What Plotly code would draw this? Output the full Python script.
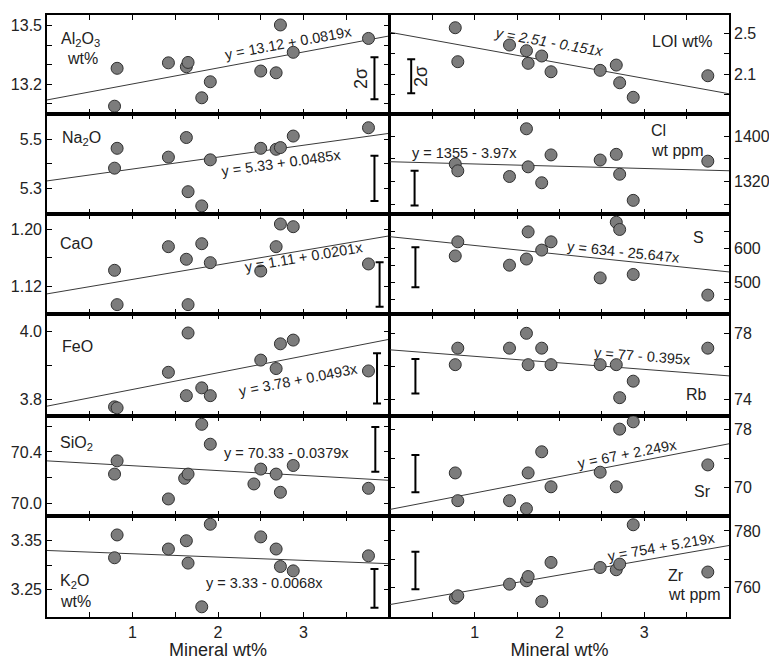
import plotly.graph_objects as go
from plotly.subplots import make_subplots

W, H = 769, 660
FONT = "Liberation Sans, Arial, sans-serif"

# ---------------- data ----------------
x_left = [0.79, 0.82, 1.42, 1.63, 1.65, 1.81, 1.91, 2.50, 2.68, 2.73, 2.88, 3.76]
x_sio2 = [0.79, 0.82, 1.42, 1.61, 1.65, 1.81, 1.91, 2.42, 2.50, 2.68, 2.73, 2.88, 3.76]
x_right = [0.77, 0.80, 1.41, 1.61, 1.63, 1.79, 1.90, 2.48, 2.67, 2.71, 2.87, 3.75]

al2o3 = [13.088, 13.282, 13.310, 13.290, 13.312, 13.131, 13.213, 13.268, 13.259, 13.504, 13.364, 13.435]
na2o = [5.382, 5.463, 5.427, 5.507, 5.286, 5.228, 5.416, 5.463, 5.459, 5.466, 5.513, 5.547]
cao = [1.1427, 1.0951, 1.1755, 1.1580, 1.0951, 1.1796, 1.1533, 1.1417, 1.1755, 1.2069, 1.2032, 1.1515]
feo = [3.778, 3.775, 3.880, 3.811, 3.996, 3.834, 3.811, 3.916, 3.891, 3.964, 3.975, 3.884]
sio2 = [70.227, 70.330, 70.033, 70.194, 70.227, 70.615, 70.460, 70.150, 70.266, 70.227, 70.085, 70.294, 70.116]
k2o = [3.315, 3.362, 3.333, 3.350, 3.304, 3.214, 3.384, 3.358, 3.333, 3.297, 3.288, 3.319]

loi = [2.555, 2.221, 2.385, 2.329, 2.205, 2.277, 2.122, 2.136, 2.188, 2.014, 1.871, 2.083]
cl = [1351, 1339, 1329, 1413, 1346, 1318, 1367, 1358, 1368, 1333, 1287, 1356]
s = [578, 619, 551, 569, 648, 595, 619, 514, 676, 655, 524, 464]
rb = [76.1, 77.1, 77.1, 78.0, 76.1, 77.1, 76.1, 76.1, 76.1, 74.1, 75.1, 77.1]
sr = [72.0, 68.2, 68.2, 67.1, 72.0, 74.9, 70.1, 72.1, 70.1, 78.0, 79.0, 73.1]
zr = [756.3, 757.1, 761.2, 762.4, 763.9, 755.1, 768.9, 767.1, 766.3, 768.3, 782.2, 765.5]

# regression: intercept, slope, label
fits = {
    "al2o3": (13.12, 0.0819, "y = 13.12 + 0.0819x"),
    "na2o": (5.33, 0.0485, "y = 5.33 + 0.0485x"),
    "cao": (1.11, 0.0201, "y = 1.11 + 0.0201x"),
    "feo": (3.78, 0.0493, "y = 3.78 + 0.0493x"),
    "sio2": (70.33, -0.0379, "y = 70.33 - 0.0379x"),
    "k2o": (3.33, -0.0068, "y = 3.33 - 0.0068x"),
    "loi": (2.51, -0.151, "<i>y = 2.51 - 0.151x</i>"),
    "cl": (1355, -3.97, "y = 1355 - 3.97x"),
    "s": (634, -25.647, "y = 634 - 25.647x"),
    "rb": (77, -0.395, "y = 77 - 0.395x"),
    "sr": (67, 2.249, "y = 67 + 2.249x"),
    "zr": (754, 5.219, "y = 754 + 5.219x"),
}

# 2-sigma bars: x position, low, high
err_x = {"al2o3": 3.83, "na2o": 3.83, "cao": 3.89, "feo": 3.86, "sio2": 3.84, "k2o": 3.83,
         "loi": 0.25, "cl": 0.29, "s": 0.30, "rb": 0.30, "sr": 0.30, "zr": 0.30}
err_lo = {"al2o3": 13.123, "na2o": 5.248, "cao": 1.0922, "feo": 3.788, "sio2": 70.245, "k2o": 3.212,
          "loi": 1.910, "cl": 1278, "s": 486.6, "rb": 74.36, "sr": 69.37, "zr": 759.4}
err_hi = {"al2o3": 13.338, "na2o": 5.433, "cao": 1.1538, "feo": 3.936, "sio2": 70.594, "k2o": 3.292,
          "loi": 2.244, "cl": 1339, "s": 603.0, "rb": 76.44, "sr": 74.44, "zr": 772.7}

# y ticks: labelled values, and unlabelled (minor) values
ytick_major = {
    "al2o3": [13.2, 13.5], "na2o": [5.3, 5.5], "cao": [1.12, 1.20], "feo": [3.8, 4.0],
    "sio2": [70.0, 70.4], "k2o": [3.25, 3.35], "loi": [2.1, 2.5], "cl": [1320, 1400],
    "s": [500, 600], "rb": [74, 78], "sr": [70, 78], "zr": [760, 780],
}
ytick_labels = {
    "al2o3": ["13.2", "13.5"], "na2o": ["5.3", "5.5"], "cao": ["1.12", "1.20"],
    "feo": ["3.8", "4.0"], "sio2": ["70.0", "70.4"], "k2o": ["3.25", "3.35"],
    "loi": ["2.1", "2.5"], "cl": ["1320", "1400"], "s": ["500", "600"],
    "rb": ["74", "78"], "sr": ["70", "78"], "zr": ["760", "780"],
}
ytick_minor = {
    "al2o3": [13.1, 13.3, 13.4], "na2o": [5.4], "cao": [1.16], "feo": [3.9],
    "sio2": [70.2, 70.6], "k2o": [3.30], "loi": [1.9, 2.3], "cl": [1280, 1360],
    "s": [450, 550, 650], "rb": [76], "sr": [74], "zr": [770],
}
yranges = {
    "al2o3": [13.048, 13.555], "na2o": [5.195, 5.603], "cao": [1.0821, 1.2208],
    "feo": [3.751, 4.052], "sio2": [69.90, 70.68], "k2o": [3.193, 3.401],
    "loi": [1.707, 2.68], "cl": [1263, 1439], "s": [409, 700],
    "rb": [72.99, 79.17], "sr": [66.1, 79.8], "zr": [749.6, 785.3],
}
xtick_major = [1, 2, 3]
xtick_labels = ["1", "2", "3"]
xtick_minor = [0.5, 1.5, 2.5, 3.5]
x_title = "Mineral wt%"

left_keys = ["al2o3", "na2o", "cao", "feo", "sio2", "k2o"]
right_keys = ["loi", "cl", "s", "rb", "sr", "zr"]
series = {"al2o3": (x_left, al2o3), "na2o": (x_left, na2o), "cao": (x_left, cao),
          "feo": (x_left, feo), "sio2": (x_sio2, sio2), "k2o": (x_left, k2o),
          "loi": (x_right, loi), "cl": (x_right, cl), "s": (x_right, s),
          "rb": (x_right, rb), "sr": (x_right, sr), "zr": (x_right, zr)}

# ---------------- layout geometry (pixels) ----------------
row_top = [15, 114, 214, 314, 416, 516]
row_bot = [114, 214, 314, 416, 516, 617]
col_x = [(47, 389), (390, 729)]

def px(x):
    return x / W

def py(y):
    return 1 - y / H

fig = make_subplots(rows=6, cols=2, horizontal_spacing=0, vertical_spacing=0)

for r in range(6):
    for c in range(2):
        key = (left_keys if c == 0 else right_keys)[r]
        row, col = r + 1, c + 1
        xs, ys = series[key]
        a, b, _ = fits[key]
        fig.add_trace(go.Scatter(x=[0, 4], y=[a, a + b * 4], mode="lines",
                                 line=dict(color="#3a3a3a", width=1), hoverinfo="skip"),
                      row=row, col=col)
        fig.add_trace(go.Scatter(x=xs, y=ys, mode="markers",
                                 marker=dict(size=12, color="#7c7c7c",
                                             line=dict(color="#303030", width=1))),
                      row=row, col=col)
        lo, hi = err_lo[key], err_hi[key]
        fig.add_trace(go.Scatter(x=[err_x[key]], y=[(lo + hi) / 2], mode="markers",
                                 marker=dict(size=1, color="rgba(0,0,0,0)"),
                                 error_y=dict(type="data", array=[(hi - lo) / 2], visible=True,
                                              color="black", thickness=2, width=4)),
                      row=row, col=col)
        idx = r * 2 + c + 1
        xa = "xaxis" if idx == 1 else f"xaxis{idx}"
        ya = "yaxis" if idx == 1 else f"yaxis{idx}"
        x0, x1 = col_x[c]
        tick_common = dict(ticks="inside", ticklen=5, tickwidth=1.2, tickcolor="black",
                           showline=True, linecolor="black", linewidth=1.6, mirror="ticks",
                           showgrid=False, zeroline=False,
                           tickfont=dict(family=FONT, size=16, color="#222"))
        fig.layout[xa].update(
            domain=[px(x0), px(x1)], range=[0, 4],
            tickmode="array", tickvals=xtick_major, ticktext=xtick_labels,
            showticklabels=(r == 5),
            minor=dict(tickmode="array", tickvals=xtick_minor, ticks="inside",
                       ticklen=5, tickwidth=1.2, tickcolor="black", showgrid=False),
            title=dict(text=x_title, font=dict(family=FONT, size=18, color="#222"),
                       standoff=6) if r == 5 else None,
            **tick_common,
        )
        fig.layout[ya].update(
            domain=[py(row_bot[r]), py(row_top[r])], range=yranges[key],
            tickmode="array", tickvals=ytick_major[key], ticktext=ytick_labels[key],
            side="left" if c == 0 else "right",
            minor=dict(tickmode="array", tickvals=ytick_minor[key], ticks="inside",
                       ticklen=5, tickwidth=1.2, tickcolor="black", showgrid=False),
            **tick_common,
        )

ann = []

def text(x, y, t, size=16, angle=0, xanchor="center", yanchor="middle"):
    ann.append(dict(x=px(x), y=py(y), xref="paper", yref="paper", text=t, showarrow=False,
                    textangle=angle, xanchor=xanchor, yanchor=yanchor,
                    font=dict(family=FONT, size=size, color="#222")))

# element labels
text(59, 40, "Al<sub>2</sub>O<sub>3</sub>", xanchor="left")
text(65, 58, "wt%", xanchor="left")
text(60, 138, "Na<sub>2</sub>O", xanchor="left")
text(58, 243, "CaO", xanchor="left")
text(60, 346, "FeO", xanchor="left")
text(58, 443, "SiO<sub>2</sub>", xanchor="left")
text(58, 581, "K<sub>2</sub>O", xanchor="left")
text(58, 601, "wt%", xanchor="left")
text(714, 41, "LOI wt%", xanchor="right")
text(649, 130, "Cl", xanchor="left")
text(649, 150, "wt ppm", xanchor="left")
text(706, 237, "S", xanchor="right")
text(709, 394, "Rb", xanchor="right")
text(713, 491, "Sr", xanchor="right")
text(666, 575, "Zr", xanchor="left")
text(666, 594, "wt ppm", xanchor="left")

# equations
eq_pos = {
    "al2o3": (288, 43, -10.6), "na2o": (281, 163, -8), "cao": (304, 257, -9.6),
    "feo": (298, 380, -11), "sio2": (286, 453, 0), "k2o": (264, 583, 0),
    "loi": (549, 42, 10), "cl": (464, 153, 0), "s": (623, 252, 6),
    "rb": (642, 356, 4.4), "sr": (627, 454, -11), "zr": (661, 547, -10),
}
for k, (ex, ey, ang) in eq_pos.items():
    text(ex, ey, fits[k][2], size=14.5, angle=ang)

# 2 sigma labels
text(361, 79, "2σ", size=18, angle=-90)
text(421, 77, "2σ", size=18, angle=-90)

fig.update_layout(
    width=W, height=H, margin=dict(l=0, r=0, t=0, b=0),
    paper_bgcolor="white", plot_bgcolor="white", showlegend=False,
    annotations=ann, font=dict(family=FONT),
)

fig.write_html("out.html")
